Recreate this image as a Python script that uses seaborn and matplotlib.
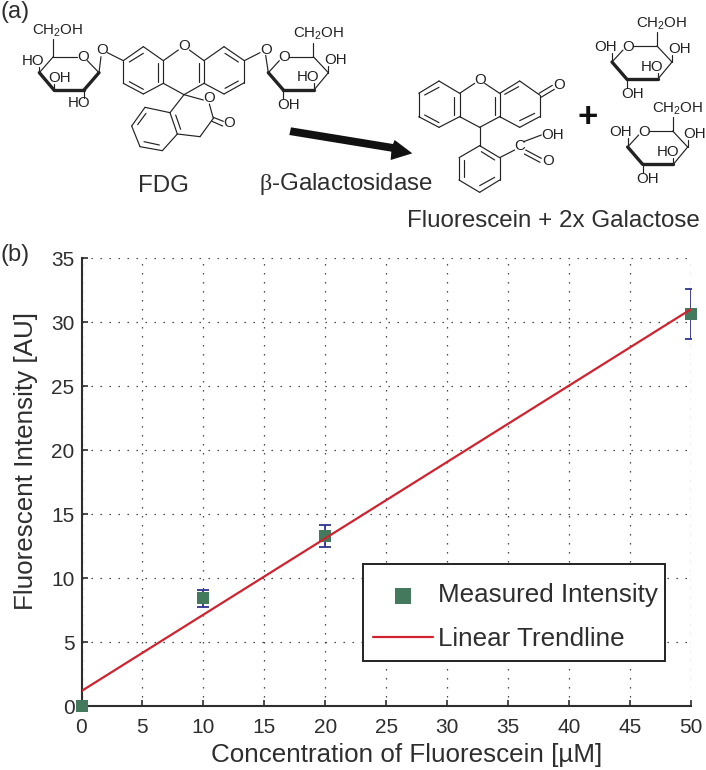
import matplotlib
matplotlib.use("Agg")
import matplotlib.pyplot as plt
from matplotlib.patches import Polygon, Rectangle
import seaborn as sns
import pandas as pd

# valores
concentracion = [0, 10, 20, 50]
intensidad = [0, 8.46, 13.3, 30.66]
error_inf = [0, 0.7, 0.85, 1.96]
error_sup = [0, 0.6, 0.84, 1.94]
trend_x = [0, 50]
trend_y = [1.17, 31.0]
x_ticks = [0, 5, 10, 15, 20, 25, 30, 35, 40, 45, 50]
y_ticks = [0, 5, 10, 15, 20, 25, 30, 35]

sns.set_style("white")
plt.rcParams['font.family'] = ['Liberation Sans', 'DejaVu Sans']
plt.rcParams['mathtext.fontset'] = 'custom'
plt.rcParams['mathtext.rm'] = 'Liberation Serif'
plt.rcParams['mathtext.it'] = 'Liberation Serif'

W, H = 706, 770
GRIS = '#2e2e2e'
VERDE = '#437a5e'
ROJO = '#d0232f'
AZUL = '#2f3590'

fig = plt.figure(figsize=(W / 100, H / 100), dpi=100)

############ panel (b) ############
ax = fig.add_axes([81.5 / W, (H - 706) / H, 609.5 / W, 448 / H])

df_puntos = pd.DataFrame({"x": concentracion, "y": intensidad})
df_trend = pd.DataFrame({"x": trend_x, "y": trend_y})

ax.errorbar(concentracion[1:], intensidad[1:], yerr=[error_inf[1:], error_sup[1:]], fmt='none',
            ecolor=AZUL, elinewidth=1.3, capsize=4.2, capthick=1.3, zorder=3)
sns.scatterplot(data=df_puntos, x="x", y="y", ax=ax, marker='s', s=65, color=VERDE, linewidth=0,
                label="Measured Intensity", zorder=4, clip_on=False)
sns.lineplot(data=df_trend, x="x", y="y", ax=ax, color=ROJO, linewidth=1.6,
             label="Linear Trendline", zorder=5)

ax.set_xlim(0, 50)
ax.set_ylim(0, 35)
ax.set_xticks(x_ticks)
ax.set_yticks(y_ticks)
ax.grid(True, color='#333333', linewidth=0.9, linestyle=(0, (1.1, 6.1)))
ax.set_axisbelow(True)
ax.tick_params(direction='in', length=4, width=1.2, color=GRIS, labelsize=15, labelcolor=GRIS,
               left=True, bottom=True)
ax.tick_params(axis='x', pad=8.5)
ax.tick_params(axis='y', pad=5)
sns.despine(ax=ax)
for lado in ['left', 'bottom']:
    ax.spines[lado].set_linewidth(1.5)
    ax.spines[lado].set_color(GRIS)
ax.set_xlabel("Concentration of Fluorescein [µM]", fontsize=18.7, color=GRIS, va='center')
ax.set_ylabel("Fluorescent Intensity [AU]", fontsize=18.7, color=GRIS, va='center')
ax.xaxis.set_label_coords((407 - 81.5) / 609.5, -(755 - 706) / 448, transform=ax.transAxes)
ax.yaxis.set_label_coords(-(81.5 - 26) / 609.5, (706 - 461) / 448, transform=ax.transAxes)

# marco de la leyenda aparte para tener el alto exacto
marco = Rectangle(((363.3 - 81.5) / 609.5, (706 - 660.7) / 448), 301.7 / 609.5, 96.7 / 448,
                  transform=ax.transAxes, facecolor='white', edgecolor='#222222', linewidth=1.4, zorder=6)
ax.add_patch(marco)
ley = ax.legend(loc='center left', bbox_to_anchor=((373 - 81.5) / 609.5, (706 - 617) / 448),
                fontsize=18.7, frameon=False, borderaxespad=0, borderpad=0, handlelength=2.3,
                handletextpad=0.19, labelspacing=0.74, labelcolor=GRIS, markerscale=1.36)
ley.set_zorder(7)

############ panel (a), dibujo quimico en pixeles ############
ax0 = fig.add_axes([0, 0, 1, 1], facecolor='none')
ax0.set_xlim(0, W)
ax0.set_ylim(H, 0)
ax0.axis('off')

TINTA = '#222222'


def enlaces(lista, dx=0, dy=0, lw=0.85):
    for a, b, c, d in lista:
        ax0.plot([(a + dx) / 3, (c + dx) / 3], [(b + dy) / 3, (d + dy) / 3], color=TINTA, lw=lw,
                 solid_capstyle='round')


def rotulo(x, y, s, dx=0, dy=0, size=10.8):
    ax0.text((x + dx) / 3, (y + dy) / 3, s, fontsize=size, color=TINTA, ha='center', va='center')


CH2OH = r"CH$_{\mathregular{2}}$OH"


# azucar abierto a la derecha
def azucar(dx, dy):
    enlaces([(868, 170, 940, 170), (940, 170, 985, 218), (985, 218, 942, 270), (805, 218, 838, 182),
             (940, 170, 940, 128), (985, 218, 985, 197), (942, 270, 942, 250), (850, 270, 850, 297)], dx, dy)
    enlaces([(942, 270, 850, 270), (850, 270, 805, 218)], dx, dy, lw=2.4)
    rotulo(853, 172, "O", dx, dy)
    rotulo(955, 103, CH2OH, dx, dy)
    rotulo(1007, 180, "OH", dx, dy)
    rotulo(925, 232, "HO", dx, dy)
    rotulo(866, 315, "OH", dx, dy)


# FDG
enlaces([(160, 170, 232, 170), (262, 182, 297, 218), (118, 218, 160, 170), (160, 170, 160, 118),
         (118, 218, 118, 200), (162, 270, 162, 252), (252, 270, 252, 295), (297, 218, 303, 170),
         (322, 158, 370, 182)])
enlaces([(297, 218, 252, 270), (252, 270, 162, 270), (162, 270, 118, 218)], lw=2.4)
for x, y, s in [(173, 93, CH2OH), (98, 182, "HO"), (178, 235, "OH"), (238, 310, "HO"), (248, 172, "O"),
                (307, 149, "O"), (552, 138, "O"), (627, 295, "O"), (686, 368, "O"), (797, 149, "O")]:
    rotulo(x, y, s)
azucar(0, 0)
enlaces([(805, 218, 797, 166), (780, 158, 733, 182)])
enlaces([(370, 182, 430, 140), (430, 140, 490, 182), (490, 182, 490, 250), (490, 250, 430, 282),
         (430, 282, 370, 250), (370, 250, 370, 182), (388, 186, 430, 160), (473, 190, 473, 245),
         (388, 245, 430, 268), (490, 182, 535, 150), (568, 150, 612, 182), (612, 182, 612, 250),
         (612, 250, 552, 284), (552, 284, 490, 250), (597, 190, 597, 245), (612, 182, 672, 140),
         (672, 140, 733, 182), (733, 182, 733, 248), (733, 248, 672, 282), (672, 282, 612, 250),
         (675, 160, 715, 186), (675, 265, 715, 243), (552, 284, 610, 300), (552, 284, 510, 338),
         (628, 312, 640, 355), (640, 355, 600, 410), (600, 410, 532, 402), (640, 352, 670, 364),
         (636, 364, 668, 378), (510, 338, 435, 322), (435, 322, 395, 378), (395, 378, 420, 440),
         (420, 440, 487, 452), (487, 452, 532, 402), (532, 402, 510, 338), (527, 345, 542, 388),
         (438, 340, 413, 374), (432, 425, 478, 435)])

# fluoresceina y galactosas (coordenadas del segundo recorte)
D = 1059
enlaces([(197, 280, 258, 243), (258, 243, 320, 280), (320, 280, 320, 350), (320, 350, 258, 382),
         (258, 382, 197, 350), (197, 350, 197, 280), (215, 285, 258, 262), (303, 290, 303, 345),
         (215, 345, 258, 368), (320, 280, 365, 250), (395, 250, 440, 280), (440, 280, 440, 350),
         (440, 350, 380, 382), (380, 382, 320, 350), (425, 290, 425, 345), (440, 280, 500, 243),
         (500, 243, 560, 285), (560, 285, 560, 350), (560, 350, 500, 382), (500, 382, 440, 350),
         (455, 283, 497, 260), (500, 362, 545, 340), (558, 280, 598, 256), (564, 292, 604, 268),
         (380, 382, 380, 437), (380, 437, 440, 473), (440, 473, 440, 540), (440, 540, 380, 577),
         (380, 577, 318, 540), (318, 540, 318, 473), (318, 473, 380, 437), (385, 455, 425, 480),
         (333, 480, 333, 530), (380, 557, 425, 532), (440, 473, 485, 450), (512, 425, 565, 405),
         (518, 450, 565, 475), (514, 462, 561, 487)], D, 0)
for x, y, s in [(380, 240, "O"), (618, 255, "O"), (600, 404, "OH"), (584, 484, "O"), (500, 437, "C")]:
    rotulo(x, y, s, D, 0)

for sx, sy, ox, oy in [(-28 + D, -32, 757, 140), (19 + D, 223, 804, 397)]:
    azucar(sx, sy)
    enlaces([(805, 218, 805, 192)], sx, sy)
    rotulo(ox, oy, "OH", D, 0)

ax0.text((703 + D) / 3, 117, "+", fontsize=25, fontweight='bold', color='#111111', ha='center', va='center')

# flecha de la reaccion
ax0.add_patch(Polygon([(873 / 3, 382 / 3), ((120 + D) / 3, 432 / 3), ((125 + D) / 3, 420 / 3),
                       ((178 + D) / 3, 460 / 3), ((113 + D) / 3, 480 / 3), ((115 + D) / 3, 455 / 3),
                       (868 / 3, 405 / 3)], closed=True, facecolor='#111111', edgecolor='none'))

# textos
ax0.text(1, 12, "(a)", fontsize=17, color=GRIS, ha='left', va='center')
ax0.text(1, 255, "(b)", fontsize=17, color=GRIS, ha='left', va='center')
ax0.text(163, 186, "FDG", fontsize=17.4, color=GRIS, ha='center', va='center')
ax0.text(259, 184, r"$\beta$-Galactosidase", fontsize=17.4, color=GRIS, ha='left', va='center')
ax0.text(553, 221, "Fluorescein + 2x Galactose", fontsize=17.4, color=GRIS, ha='center', va='center')

fig.savefig("out.png", dpi=100)
